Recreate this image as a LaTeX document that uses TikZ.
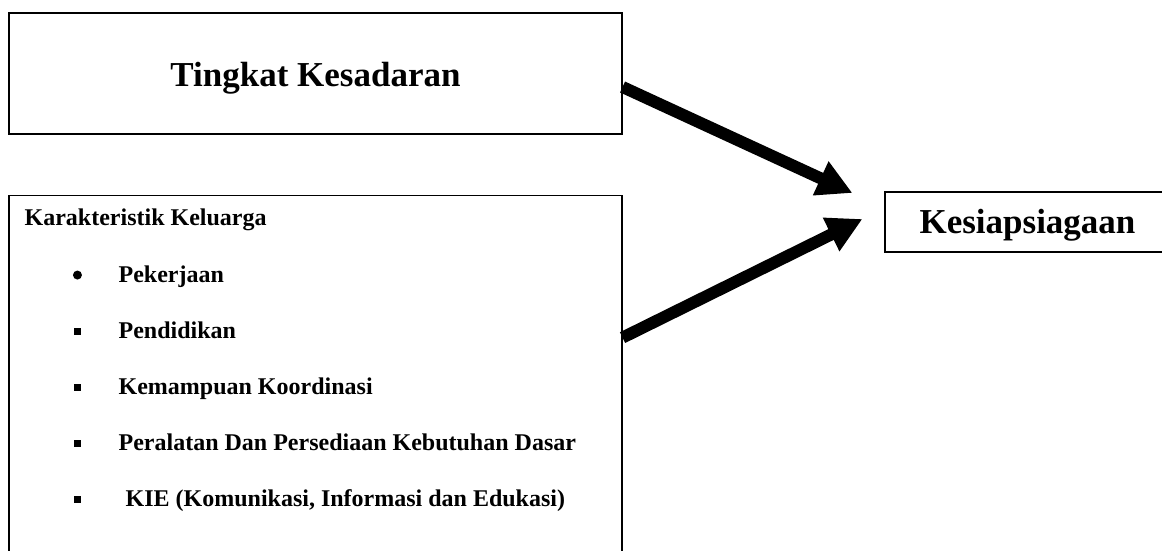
\documentclass[tikz,border=0pt]{standalone}
\usepackage{fontspec}
\setmainfont{Liberation Serif}
\usepackage{tikz}
\usetikzlibrary{positioning,arrows.meta,calc}

\begin{document}
\begin{tikzpicture}[
  x=1pt, y=1pt,
  font=\bfseries,
  box/.style={draw=black, line width=1.1pt, inner sep=0pt},
  big/.style={font=\fontsize{35}{40}\selectfont\bfseries, text height=24pt, text depth=2pt},
  item/.style={font=\fontsize{24}{28}\selectfont\bfseries, anchor=base west, inner sep=0pt},
  dot/.style={circle, fill=black, inner sep=0pt, minimum size=9pt},
  sq/.style={rectangle, fill=black, inner sep=0pt, minimum size=7pt},
  arr/.style={-{Triangle[length=35pt, width=35pt]}, line width=12pt},
]
\useasboundingbox (0,0) rectangle (1162,-551);
\clip (0,0) rectangle (1162,-551);
% ---- boxes ----
\node[box, big, text height=29pt, minimum width=613pt, minimum height=121pt] (tingkat) at (315.5,-73.5) {Tingkat Kesadaran};
\node[box, minimum width=613pt, minimum height=366pt, below=60pt of tingkat] (ciri) {};
\node[box, big, minimum width=285pt, minimum height=60pt] (siaga) at (1027.5,-222) {Kesiapsiagaan};
% ---- family characteristics ----
\node[item] (judul) at ($(ciri.north west)+(16,-31)$) {Karakteristik Keluarga};
\node[item] (kerja) at ($(judul.base west)+(94,-56.5)$) {Pekerjaan};
\node[item] (didik) at ($(kerja.base west)+(0,-56)$) {Pendidikan};
\node[item] (koord) at ($(didik.base west)+(0,-56)$) {Kemampuan Koordinasi};
\node[item] (alat) at ($(koord.base west)+(0,-56)$) {Peralatan Dan Persediaan Kebutuhan Dasar};
\node[item] (kie) at ($(alat.base west)+(7,-56)$) {KIE (Komunikasi, Informasi dan Edukasi)};
% bullets
\node[dot] (b1) at ($(kerja.base west)+(-41,7)$) {};
\node[sq] (b2) at ($(didik.base west)+(-40.5,7)$) {};
\node[sq] (b3) at ($(koord.base west)+(-40.5,7)$) {};
\node[sq] (b4) at ($(alat.base west)+(-40.5,7)$) {};
\node[sq] (b5) at ($(kie.base west)+(-47.5,7)$) {};
% ---- arrows ----
\draw[arr] ($(tingkat.east)+(0,-13.5)$) -- ($(siaga.west)+(-32,29)$);
\draw[arr] ($(ciri.east)+(0,40.5)$) -- ($(siaga.west)+(-22,3)$);
\end{tikzpicture}
\end{document}
